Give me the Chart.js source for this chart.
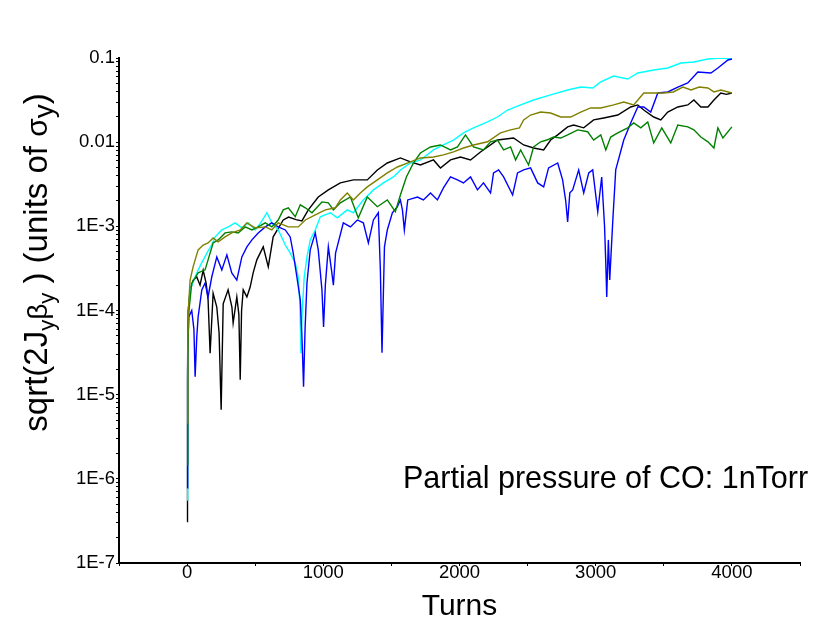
<!DOCTYPE html>
<html><head><meta charset="utf-8">
<script src="https://cdn.jsdelivr.net/npm/chart.js@4.4.1/dist/chart.umd.min.js"></script>
<style>html,body{margin:0;padding:0;background:#fff;}#wrap{width:813px;height:622px;position:relative;}</style>
</head><body><div id="wrap"><canvas id="c" width="813" height="622"></canvas></div>
<script>
// ---- tick labels ----
const xTickValues = [0, 1000, 2000, 3000, 4000];
const xTickLabels = ['0', '1000', '2000', '3000', '4000'];
const yDecades = [1e-7, 1e-6, 1e-5, 1e-4, 1e-3, 1e-2, 1e-1];
const yTickLabels = ['1E-7', '1E-6', '1E-5', '1E-4', '1E-3', '0.01', '0.1'];

// ---- series: [turn, sqrt(2J_y beta_y) in units of sigma_y] ----
const black = [[0,3.1e-7],[3,1.5e-5],[8,1.0e-4],[22,1.76e-4],[45,2.3e-4],[71,2.5e-4],[95,2.0e-4],[118,3.0e-4],[140,2.1e-4],[154,1.34e-4],[169,3.1e-5],[191,1.6e-4],[218,1.1e-4],[235,5.4e-5],[250,6.6e-6],[265,1.2e-4],[301,1.76e-4],[329,1.1e-4],[338,7.1e-5],[365,1.45e-4],[380,9e-5],[390,1.5e-5],[400,1.0e-4],[412,1.76e-4],[439,1.45e-4],[463,1.9e-4],[485,2.8e-4],[512,4.0e-4],[559,5.7e-4],[596,3.3e-4],[632,7.5e-4],[706,1.19e-3],[745,1.29e-3],[800,1.2e-3],[843,1.16e-3],[890,1.57e-3],[963,2.23e-3],[1037,2.71e-3],[1125,3.28e-3],[1221,3.56e-3],[1323,3.56e-3],[1397,4.68e-3],[1470,5.66e-3],[1566,6.49e-3],[1640,5.82e-3],[1713,5.36e-3],[1809,6.15e-3],[1860,4.94e-3],[1934,6.15e-3],[2007,6.67e-3],[2081,6.15e-3],[2154,7.65e-3],[2279,0.0106],[2397,0.0112],[2471,9.26e-3],[2544,8.53e-3],[2618,8.08e-3],[2669,0.0106],[2721,0.0122],[2794,0.0152],[2838,0.016],[2912,0.0148],[2985,0.0184],[3059,0.0194],[3162,0.021],[3257,0.0262],[3309,0.0277],[3353,0.0241],[3426,0.0199],[3478,0.0184],[3529,0.0228],[3603,0.0262],[3676,0.0277],[3721,0.0317],[3772,0.0262],[3824,0.0262],[3868,0.0317],[3919,0.0384],[3960,0.037],[4000,0.0384]];

const cyan = [[0,5.6e-7],[4,2e-5],[12,1.0e-4],[22,1.76e-4],[40,2.1e-4],[59,2.5e-4],[80,3.0e-4],[108,3.7e-4],[145,4.8e-4],[180,6.0e-4],[206,7.5e-4],[255,9.06e-4],[302,9.84e-4],[353,1.1e-3],[402,9.6e-4],[449,1.1e-3],[500,9.06e-4],[540,1.1e-3],[586,1.45e-3],[622,1.1e-3],[669,9.06e-4],[721,6.0e-4],[757,4.8e-4],[794,3.7e-4],[816,2.5e-4],[828,1.2e-4],[836,3.1e-5],[845,1.0e-4],[860,2.5e-4],[880,4.3e-4],[904,6.9e-4],[941,9.06e-4],[978,1.3e-3],[1051,1.45e-3],[1103,1.26e-3],[1176,1.57e-3],[1221,1.45e-3],[1294,2.06e-3],[1368,2.71e-3],[1441,3.28e-3],[1515,3.86e-3],[1566,4.68e-3],[1640,5.66e-3],[1713,6.15e-3],[1809,8.08e-3],[1882,9.26e-3],[1956,0.0106],[2029,0.0129],[2103,0.0148],[2206,0.0174],[2279,0.0199],[2353,0.0241],[2449,0.0277],[2544,0.0317],[2669,0.0364],[2794,0.0417],[2890,0.0452],[2978,0.044],[3037,0.0519],[3132,0.0611],[3235,0.0563],[3309,0.0664],[3426,0.072],[3529,0.0761],[3625,0.0872],[3721,0.0896],[3824,0.0973],[3919,0.1],[4000,0.0973]];

const blue = [[0,7.8e-7],[4,3e-5],[12,8.4e-5],[34,1.0e-4],[50,6e-5],[59,1.63e-5],[71,4.86e-5],[81,8.4e-5],[108,1.76e-4],[132,2.12e-4],[154,1.45e-4],[181,2.5e-4],[218,4.33e-4],[255,3.04e-4],[292,4.58e-4],[328,2.8e-4],[365,2.3e-4],[402,4.33e-4],[439,5.7e-4],[476,6.9e-4],[522,8.35e-4],[574,9.84e-4],[622,1.1e-3],[669,9.84e-4],[721,9.06e-4],[757,7.48e-4],[779,4.83e-4],[806,2.5e-4],[831,1.34e-4],[845,4e-5],[855,1.24e-5],[866,6e-5],[880,2.12e-4],[904,5.25e-4],[941,8.35e-4],[963,5.25e-4],[990,1.76e-4],[1002,6.38e-5],[1015,2e-4],[1037,5.7e-4],[1060,3.04e-4],[1074,2.0e-4],[1090,4.8e-4],[1147,1.1e-3],[1199,9.84e-4],[1250,1.19e-3],[1294,1.1e-3],[1331,6.35e-4],[1368,1.19e-3],[1404,1.45e-3],[1419,3.04e-4],[1431,3.14e-5],[1449,5.7e-4],[1470,9.06e-4],[1507,1.45e-3],[1544,1.71e-3],[1566,2.06e-3],[1581,1.57e-3],[1595,9.06e-4],[1620,2.06e-3],[1691,2.23e-3],[1735,2.06e-3],[1787,2.49e-3],[1838,2.06e-3],[1882,2.86e-3],[1934,3.86e-3],[1985,3.56e-3],[2029,3.28e-3],[2081,3.86e-3],[2132,2.71e-3],[2176,3.28e-3],[2228,2.49e-3],[2250,4.31e-3],[2287,4.68e-3],[2324,3.86e-3],[2390,2.36e-3],[2426,4.31e-3],[2471,4.68e-3],[2522,4.94e-3],[2574,3.28e-3],[2618,2.94e-3],[2654,4.94e-3],[2721,5.66e-3],[2757,3.56e-3],[2780,2.0e-3],[2794,1.13e-3],[2810,2.5e-3],[2831,2.71e-3],[2875,4.68e-3],[2912,2.49e-3],[2949,4.31e-3],[2978,4.68e-3],[3015,1.49e-3],[3044,3.86e-3],[3065,1.0e-3],[3074,3.68e-4],[3081,1.45e-4],[3093,6.9e-4],[3103,2.3e-4],[3125,1.13e-3],[3147,4.68e-3],[3206,0.0106],[3257,0.0169],[3309,0.0262],[3353,0.0262],[3404,0.0228],[3456,0.0384],[3529,0.0395],[3603,0.0452],[3676,0.0505],[3750,0.0682],[3846,0.0664],[3897,0.0761],[3971,0.0947],[4000,0.0973]];

const olive = [[0,4.6e-6],[5,5e-5],[12,1.2e-4],[22,2.3e-4],[44,3.3e-4],[81,5.25e-4],[118,6.0e-4],[154,6.35e-4],[191,7.28e-4],[228,6.53e-4],[279,7.48e-4],[328,8.35e-4],[390,9.06e-4],[439,1.1e-3],[500,9.57e-4],[574,9.84e-4],[622,9.06e-4],[669,1.1e-3],[743,9.84e-4],[816,9.84e-4],[868,1.19e-3],[941,1.37e-3],[1015,1.57e-3],[1088,1.66e-3],[1125,2.06e-3],[1176,2.49e-3],[1221,2.06e-3],[1272,2.49e-3],[1323,2.94e-3],[1397,3.56e-3],[1470,4.31e-3],[1544,5.07e-3],[1640,5.82e-3],[1713,6.49e-3],[1809,6.67e-3],[1882,7.05e-3],[1956,7.65e-3],[2029,8.53e-3],[2103,9.26e-3],[2206,0.0101],[2301,0.0129],[2375,0.014],[2440,0.0148],[2471,0.0184],[2522,0.021],[2596,0.0228],[2669,0.0222],[2743,0.0199],[2816,0.0199],[2890,0.0228],[2963,0.0255],[3037,0.0255],[3132,0.0277],[3206,0.03],[3279,0.0277],[3353,0.0384],[3426,0.0384],[3500,0.0384],[3570,0.0395],[3640,0.0452],[3700,0.0417],[3760,0.0452],[3824,0.044],[3868,0.0395],[3919,0.0417],[4000,0.0384]];

const green = [[0,1.46e-6],[5,3e-5],[12,9.4e-5],[34,2.1e-4],[81,2.8e-4],[132,3.04e-4],[154,4.0e-4],[191,6.35e-4],[228,6.9e-4],[279,8.35e-4],[328,8.58e-4],[375,8.35e-4],[426,9.84e-4],[476,9.06e-4],[522,9.84e-4],[574,1.1e-3],[622,9.84e-4],[669,1.19e-3],[706,1.57e-3],[743,1.66e-3],[794,1.3e-3],[831,1.8e-3],[868,1.66e-3],[917,1.45e-3],[990,1.95e-3],[1037,1.9e-3],[1074,1.57e-3],[1125,1.9e-3],[1199,2.23e-3],[1257,1.26e-3],[1323,2.23e-3],[1397,1.71e-3],[1470,2.06e-3],[1529,1.49e-3],[1566,2.36e-3],[1610,3.86e-3],[1662,5.66e-3],[1713,7.44e-3],[1787,8.77e-3],[1860,9.26e-3],[1934,8.08e-3],[1985,8.77e-3],[2044,0.0122],[2103,8.77e-3],[2176,8.08e-3],[2228,0.0101],[2279,0.0106],[2324,8.08e-3],[2375,8.77e-3],[2412,6.15e-3],[2449,8.08e-3],[2507,5.36e-3],[2544,8.77e-3],[2596,0.0101],[2640,0.0106],[2691,0.0115],[2743,0.0112],[2794,0.0122],[2868,0.014],[2941,0.0133],[2985,0.0106],[3037,0.0122],[3074,8.08e-3],[3110,0.0115],[3162,0.0129],[3235,0.0148],[3279,0.0169],[3331,0.0148],[3382,0.0174],[3426,9.8e-3],[3485,0.0148],[3551,9.8e-3],[3603,0.016],[3676,0.0152],[3721,0.014],[3772,0.0115],[3824,0.0101],[3868,8.53e-3],[3897,0.0148],[3934,0.0112],[4000,0.0152]];

const FONT = '"Liberation Sans", Arial, Helvetica, sans-serif';
const toXY = arr => arr.map(p => ({x: p[0], y: p[1]}));
const mk = (data, color) => ({data: toXY(data), borderColor: color, borderWidth: 1.4, pointRadius: 0, fill: false, tension: 0});

const textPlugin = {
  id: 'texts',
  afterDraw(chart) {
    const ctx = chart.ctx;
    ctx.save();
    ctx.fillStyle = '#000';
    ctx.textBaseline = 'alphabetic';
    // x title
    ctx.font = '30px ' + FONT;
    ctx.textAlign = 'center';
    ctx.fillText('Turns', (chart.chartArea.left + chart.chartArea.right) / 2, 615);
    // annotation
    ctx.font = '30.5px ' + FONT;
    ctx.textAlign = 'left';
    ctx.fillText('Partial pressure of CO: 1nTorr', 403, 488);
    // y title with subscripts
    const parts = [
      {t: 'sqrt(2J', s: 33, dy: 0},
      {t: 'y', s: 22, dy: 7},
      {t: 'β', s: 28, dy: 0},
      {t: 'y', s: 22, dy: 7},
      {t: ' ) (units of ', s: 33, dy: 0},
      {t: 'σ', s: 30, dy: 0},
      {t: 'y', s: 28, dy: 6},
      {t: ')', s: 33, dy: 0}
    ];
    let W = 0;
    parts.forEach(p => { ctx.font = p.s + 'px ' + FONT; p.w = ctx.measureText(p.t).width; W += p.w; });
    ctx.translate(47, 262.5 + W / 2);
    ctx.rotate(-Math.PI / 2);
    let u = 0;
    parts.forEach(p => { ctx.font = p.s + 'px ' + FONT; ctx.fillText(p.t, u, p.dy); u += p.w; });
    ctx.restore();
  }
};

new Chart(document.getElementById('c'), {
  type: 'line',
  data: {
    datasets: [mk(olive, '#808000'), mk(green, '#008000'), mk(blue, '#0000ff'), mk(cyan, '#00ffff'), mk(black, '#000000')]
  },
  options: {
    responsive: false,
    animation: false,
    parsing: true,
    layout: {padding: {left: 0, right: 13, top: 58, bottom: 0}},
    plugins: {legend: {display: false}, tooltip: {enabled: false}},
    scales: {
      x: {
        type: 'linear', min: -500, max: 4500,
        afterFit: s => { s.height = 59; },
        grid: {display: true, drawOnChartArea: false, drawTicks: true, tickLength: 3, color: '#000', lineWidth: 1},
        border: {display: true, color: '#000', width: 2},
        ticks: {stepSize: 500, autoSkip: false, maxRotation: 0, padding: -4, color: '#000', font: {family: FONT, size: 18.5},
          callback: v => { const i = xTickValues.indexOf(v); return i >= 0 ? xTickLabels[i] : ''; }}
      },
      y: {
        type: 'logarithmic', min: 1e-7, max: 0.1,
        afterFit: s => { s.width = 119; },
        afterBuildTicks: s => {
          const t = [];
          for (let i = 0; i < yDecades.length - 1; i++) for (let m = 1; m <= 9; m++) t.push({value: m * yDecades[i]});
          t.push({value: yDecades[yDecades.length - 1]});
          s.ticks = t;
        },
        grid: {display: true, drawOnChartArea: false, drawTicks: true, tickLength: 3, color: '#000', lineWidth: 1},
        border: {display: true, color: '#000', width: 2},
        ticks: {autoSkip: false, padding: 1, color: '#000', font: {family: FONT, size: 18.5},
          callback: v => { const i = yDecades.findIndex(d => Math.abs(Math.log10(v) - Math.log10(d)) < 1e-6); return i >= 0 ? yTickLabels[i] : ''; }}
      }
    }
  },
  plugins: [textPlugin]
});
</script></body></html>
